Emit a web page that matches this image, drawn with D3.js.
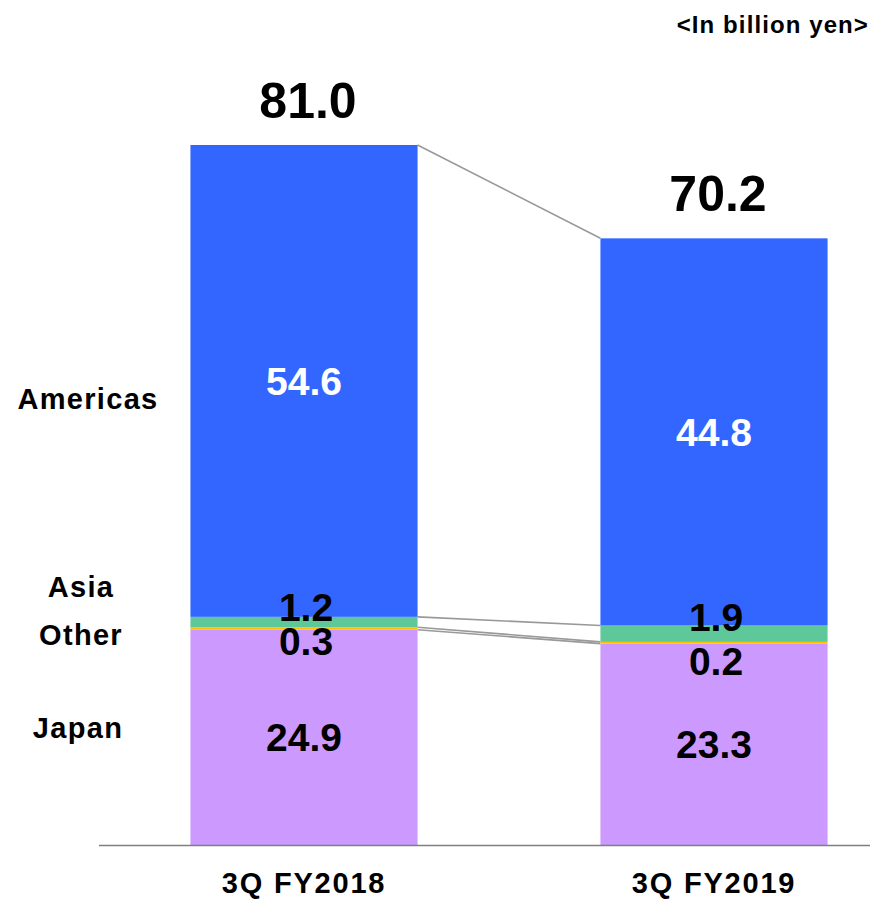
<!DOCTYPE html>
<html>
<head>
<meta charset="utf-8">
<script src="https://cdn.jsdelivr.net/npm/d3@7"></script>
<style>
  html, body { margin: 0; padding: 0; background: #fff; }
  svg { display: block; font-family: "Liberation Sans", Arial, Helvetica, sans-serif; font-weight: bold; }
</style>
</head>
<body>
<svg id="chart" width="870" height="900"></svg>
<script>
// ---- data ----
const categories = ["3Q FY2018", "3Q FY2019"];
const seriesNames = ["Japan", "Other", "Asia", "Americas"];
const japan = [24.9, 23.3];
const other = [0.3, 0.2];
const asia = [1.2, 1.9];
const americas = [54.6, 44.8];
const totals = [81.0, 70.2];
const unitLabel = "<In billion yen>";

// ---- layout ----
const colors = { Japan: "#CC99FF", Other: "#FFC000", Asia: "#5FC89B", Americas: "#3366FF" };
const baseY = 845, topY = 145;
const svg = d3.select("#chart");

const x = d3.scaleBand().domain(categories).range([99, 919]).paddingInner(0.446).paddingOuter(0.223);
const y = d3.scaleLinear().domain([0, 81.0]).range([baseY, topY]);

const valuesBySeries = { Japan: japan, Other: other, Asia: asia, Americas: americas };
const table = categories.map((c, i) => {
  const row = { category: c };
  seriesNames.forEach(s => row[s] = valuesBySeries[s][i]);
  return row;
});
const stack = d3.stack().keys(seriesNames)(table);

// connector lines between bars (top of each series)
stack.forEach(layer => {
  const a = layer[0], b = layer[1];
  svg.append("line")
    .attr("x1", x(categories[0]) + x.bandwidth())
    .attr("y1", y(a[1]))
    .attr("x2", x(categories[1]))
    .attr("y2", y(b[1]))
    .attr("stroke", "#999999")
    .attr("stroke-width", 1.6);
});

// bars
stack.forEach(layer => {
  svg.append("g").selectAll("rect").data(layer).join("rect")
    .attr("x", d => x(d.data.category))
    .attr("width", x.bandwidth())
    .attr("y", d => y(d[1]))
    .attr("height", d => y(d[0]) - y(d[1]))
    .attr("fill", colors[layer.key]);
});

// axis baseline
svg.append("line").attr("x1", 99).attr("x2", 870).attr("y1", baseY + 0.5).attr("y2", baseY + 0.5)
  .attr("stroke", "#7f7f7f").attr("stroke-width", 1.5);

// value labels
const valueFont = 39;
const capHalf = 0.716 * valueFont / 2;
const labelNudge = { Asia: [-10, -8], Other: [11, 17] };
stack.forEach(layer => {
  layer.forEach((d, i) => {
    const big = layer.key === "Japan" || layer.key === "Americas";
    const cx = x(d.data.category) + x.bandwidth() / 2 + (big ? 0 : 2);
    let cy;
    if (big) {
      cy = (y(d[0]) + y(d[1])) / 2;
    } else if (layer.key === "Asia") {
      cy = y(d[1]) + labelNudge.Asia[i];
    } else {
      cy = y(d[0]) + labelNudge.Other[i];
    }
    svg.append("text")
      .attr("x", cx)
      .attr("y", cy + capHalf)
      .attr("text-anchor", "middle")
      .attr("font-size", valueFont)
      .attr("fill", layer.key === "Americas" ? "#ffffff" : "#000000")
      .text(d.data[layer.key].toFixed(1));
  });
});

// totals
categories.forEach((c, i) => {
  svg.append("text")
    .attr("x", x(c) + x.bandwidth() / 2 + 4)
    .attr("y", y(totals[i]) - 27)
    .attr("text-anchor", "middle")
    .attr("font-size", 50)
    .attr("fill", "#000")
    .text(totals[i].toFixed(1));
});

// category labels
categories.forEach(c => {
  svg.append("text")
    .attr("x", x(c) + x.bandwidth() / 2)
    .attr("y", 893)
    .attr("text-anchor", "middle")
    .attr("font-size", 29)
    .attr("letter-spacing", 1.8)
    .attr("fill", "#000")
    .text(c);
});

// series labels on left
const seriesLabelPos = { Americas: [88, 409], Asia: [81, 597], Other: [81, 645], Japan: [78, 738] };
seriesNames.forEach(s => {
  svg.append("text")
    .attr("x", seriesLabelPos[s][0])
    .attr("y", seriesLabelPos[s][1])
    .attr("text-anchor", "middle")
    .attr("font-size", 29)
    .attr("letter-spacing", 1.3)
    .attr("fill", "#000")
    .text(s);
});

// unit label
svg.append("text")
  .attr("x", 869).attr("y", 33)
  .attr("text-anchor", "end")
  .attr("font-size", 24)
  .attr("letter-spacing", 1.1)
  .attr("fill", "#000")
  .text(unitLabel);
</script>
</body>
</html>
